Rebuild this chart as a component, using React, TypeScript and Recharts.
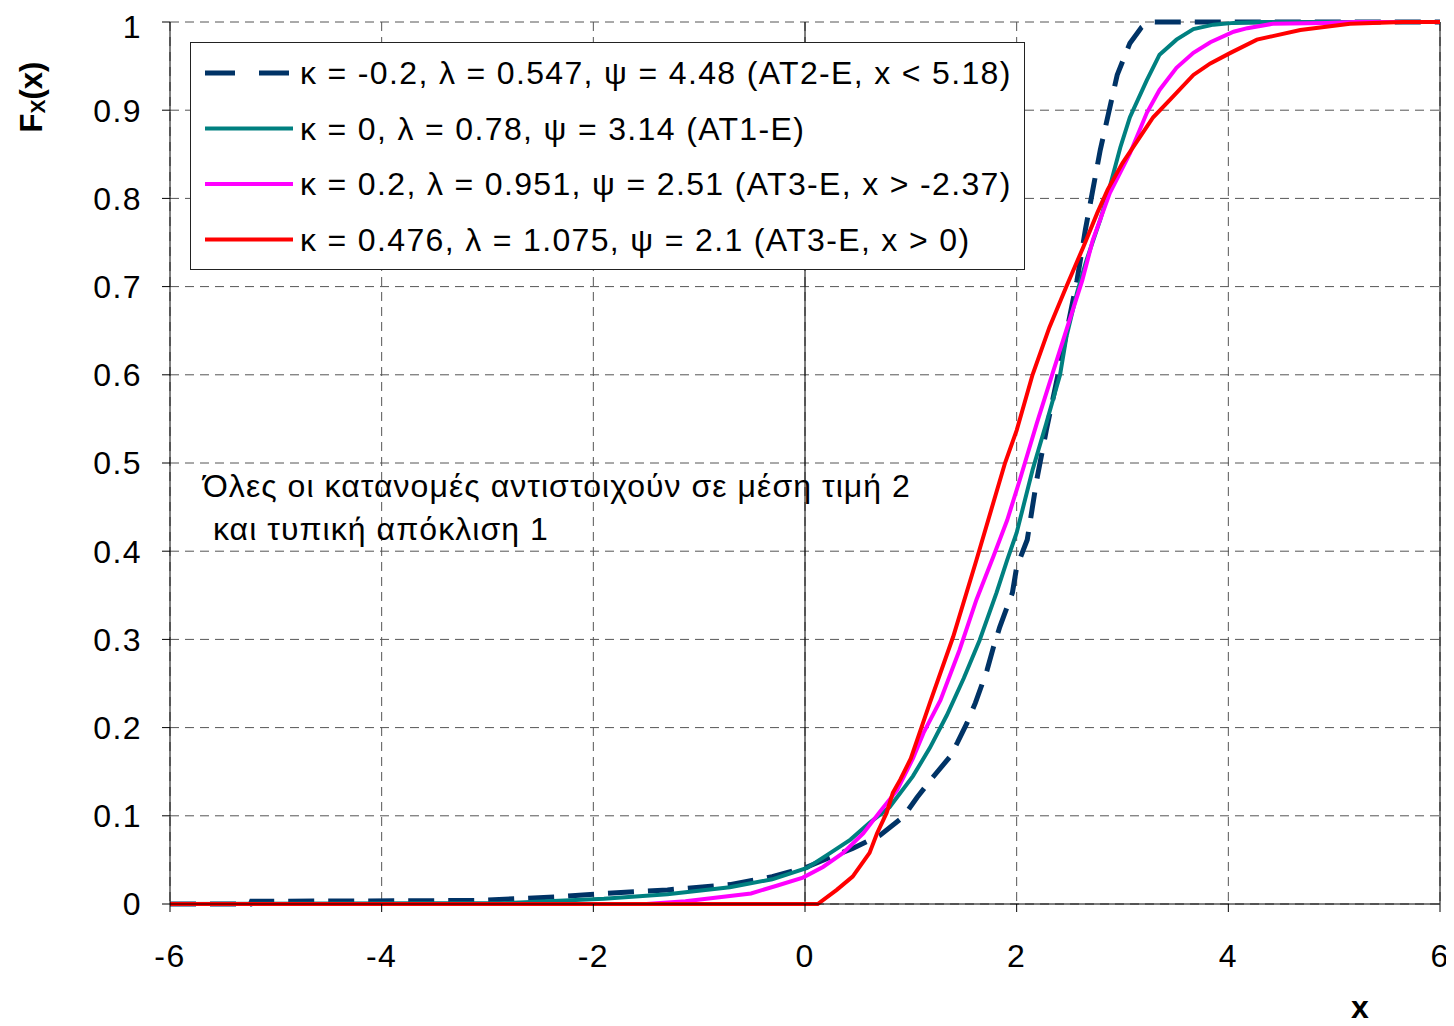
import React from 'react';
import { LineChart, Line, XAxis, YAxis, CartesianGrid, ReferenceLine } from 'recharts';

// x ticks και y ticks
const xTicks = [-6, -4, -2, 0, 2, 4, 6];
const yTicks = [0, 0.1, 0.2, 0.3, 0.4, 0.5, 0.6, 0.7, 0.8, 0.9, 1];

// Σειρές (x, F) διαβασμένες από το γράφημα
const at2Data = [
  { x: -6, F: 0 }, { x: -5.24, F: 0 }, { x: -5.23, F: 0.003 }, { x: -3.12, F: 0.004 },
  { x: -2.35, F: 0.008 }, { x: -1.9, F: 0.012 }, { x: -1.3, F: 0.016 }, { x: -0.71, F: 0.022 },
  { x: -0.31, F: 0.031 }, { x: 0.02, F: 0.042 }, { x: 0.24, F: 0.053 }, { x: 0.45, F: 0.063 },
  { x: 0.71, F: 0.078 }, { x: 0.93, F: 0.099 }, { x: 1.06, F: 0.121 }, { x: 1.21, F: 0.144 },
  { x: 1.37, F: 0.167 }, { x: 1.44, F: 0.183 }, { x: 1.53, F: 0.205 }, { x: 1.61, F: 0.228 },
  { x: 1.72, F: 0.265 }, { x: 1.78, F: 0.291 }, { x: 1.84, F: 0.314 }, { x: 1.96, F: 0.353 },
  { x: 2.0, F: 0.382 }, { x: 2.1, F: 0.413 }, { x: 2.19, F: 0.481 }, { x: 2.28, F: 0.537 },
  { x: 2.38, F: 0.594 }, { x: 2.57, F: 0.707 }, { x: 2.65, F: 0.765 }, { x: 2.72, F: 0.81 },
  { x: 2.79, F: 0.855 }, { x: 2.95, F: 0.94 }, { x: 3.07, F: 0.976 }, { x: 3.18, F: 0.994 },
  { x: 3.23, F: 0.998 }, { x: 3.29, F: 1 }, { x: 6, F: 1 },
];

const at1Data = [
  { x: -6, F: 0 }, { x: -2.83, F: 0.001 }, { x: -1.9, F: 0.006 }, { x: -1.3, F: 0.011 },
  { x: -0.71, F: 0.019 }, { x: -0.31, F: 0.028 }, { x: 0.02, F: 0.041 }, { x: 0.24, F: 0.058 },
  { x: 0.43, F: 0.073 }, { x: 0.61, F: 0.092 }, { x: 0.8, F: 0.11 }, { x: 1.02, F: 0.145 },
  { x: 1.18, F: 0.177 }, { x: 1.34, F: 0.214 }, { x: 1.5, F: 0.256 }, { x: 1.65, F: 0.299 },
  { x: 1.81, F: 0.353 }, { x: 1.91, F: 0.39 }, { x: 2.0, F: 0.421 }, { x: 2.15, F: 0.492 },
  { x: 2.28, F: 0.545 }, { x: 2.41, F: 0.6 }, { x: 2.47, F: 0.643 }, { x: 2.57, F: 0.693 },
  { x: 2.66, F: 0.73 }, { x: 2.79, F: 0.776 }, { x: 2.85, F: 0.8 }, { x: 2.98, F: 0.858 },
  { x: 3.07, F: 0.892 }, { x: 3.23, F: 0.934 }, { x: 3.35, F: 0.963 }, { x: 3.51, F: 0.98 },
  { x: 3.67, F: 0.992 }, { x: 3.86, F: 0.997 }, { x: 4.05, F: 0.999 }, { x: 4.3, F: 1 },
  { x: 6, F: 1 },
];

const at3aData = [
  { x: -6, F: 0 }, { x: -1.5, F: 0 }, { x: -1.13, F: 0.003 }, { x: -0.51, F: 0.012 },
  { x: -0.26, F: 0.021 }, { x: -0.02, F: 0.03 }, { x: 0.17, F: 0.042 }, { x: 0.36, F: 0.058 },
  { x: 0.55, F: 0.08 }, { x: 0.71, F: 0.105 }, { x: 0.87, F: 0.129 }, { x: 1.02, F: 0.165 },
  { x: 1.12, F: 0.194 }, { x: 1.28, F: 0.231 }, { x: 1.46, F: 0.288 }, { x: 1.62, F: 0.345 },
  { x: 1.78, F: 0.394 }, { x: 1.91, F: 0.435 }, { x: 2.03, F: 0.481 }, { x: 2.19, F: 0.545 },
  { x: 2.34, F: 0.602 }, { x: 2.47, F: 0.651 }, { x: 2.62, F: 0.707 }, { x: 2.72, F: 0.753 },
  { x: 2.88, F: 0.806 }, { x: 3.07, F: 0.851 }, { x: 3.23, F: 0.897 }, { x: 3.35, F: 0.923 },
  { x: 3.51, F: 0.948 }, { x: 3.67, F: 0.965 }, { x: 3.83, F: 0.977 }, { x: 4.05, F: 0.989 },
  { x: 4.18, F: 0.993 }, { x: 4.42, F: 0.998 }, { x: 4.93, F: 0.999 }, { x: 5.2, F: 1 },
  { x: 6, F: 1 },
];

const at3bData = [
  { x: -6, F: 0 }, { x: 0.12, F: 0 }, { x: 0.3, F: 0.016 }, { x: 0.45, F: 0.031 },
  { x: 0.61, F: 0.058 }, { x: 0.68, F: 0.08 }, { x: 0.77, F: 0.103 }, { x: 0.83, F: 0.126 },
  { x: 0.9, F: 0.141 }, { x: 1.0, F: 0.165 }, { x: 1.06, F: 0.186 }, { x: 1.18, F: 0.228 },
  { x: 1.4, F: 0.303 }, { x: 1.62, F: 0.39 }, { x: 1.89, F: 0.5 }, { x: 2.0, F: 0.537 },
  { x: 2.15, F: 0.6 }, { x: 2.31, F: 0.654 }, { x: 2.47, F: 0.7 }, { x: 2.63, F: 0.745 },
  { x: 2.76, F: 0.783 }, { x: 2.86, F: 0.81 }, { x: 3.0, F: 0.84 }, { x: 3.29, F: 0.892 },
  { x: 3.45, F: 0.912 }, { x: 3.67, F: 0.94 }, { x: 3.83, F: 0.953 }, { x: 4.02, F: 0.965 },
  { x: 4.27, F: 0.98 }, { x: 4.42, F: 0.984 }, { x: 4.68, F: 0.991 }, { x: 5.15, F: 0.998 },
  { x: 5.65, F: 1 }, { x: 6, F: 1 },
];

const seriesNames = [
  'κ = -0.2, λ = 0.547, ψ = 4.48 (AT2-E, x < 5.18)',
  'κ = 0, λ = 0.78, ψ = 3.14 (AT1-E)',
  'κ = 0.2, λ = 0.951, ψ = 2.51 (AT3-E, x > -2.37)',
  'κ = 0.476, λ = 1.075, ψ = 2.1 (AT3-E, x > 0)',
];
const seriesColors = ['#003366', '#008080', '#FF00FF', '#FF0000'];
const seriesDash = ['26 14', undefined, undefined, undefined];

const noteLines = ['Όλες οι κατανομές αντιστοιχούν σε μέση τιμή 2', ' και τυπική απόκλιση 1'];

const FONT = '"Liberation Sans", Arial, sans-serif';
const W = 1446;
const H = 1018;

export default function App() {
  const tickStyle = { fill: '#000', fontSize: 32, fontFamily: FONT, letterSpacing: 1.4 };
  return (
    <div style={{ position: 'relative', width: W, height: H, background: '#fff' }}>
      <LineChart width={W} height={H} margin={{ top: 14, right: 14, left: 0, bottom: 0 }}>
        <CartesianGrid stroke="#555" strokeDasharray="9 6" />
        <XAxis
          type="number"
          dataKey="x"
          domain={[-6, 6]}
          ticks={xTicks}
          allowDataOverflow
          height={122}
          tickSize={8}
          tickMargin={32}
          stroke="#000"
          tick={tickStyle}
        />
        <YAxis
          type="number"
          domain={[0, 1]}
          ticks={yTicks}
          width={162}
          tickSize={8}
          tickMargin={20}
          stroke="#000"
          tickFormatter={(v: number) => String(+v.toFixed(1))}
          tick={tickStyle}
        />
        <ReferenceLine x={0} stroke="#000" strokeWidth={1} />
        <ReferenceLine x={6} stroke="#000" strokeWidth={1} />
        {[at2Data, at1Data, at3aData, at3bData].map((d, i) => (
          <Line
            key={seriesNames[i]}
            data={d}
            dataKey="F"
            name={seriesNames[i]}
            type="linear"
            stroke={seriesColors[i]}
            strokeWidth={i === 0 ? 5 : 4}
            strokeDasharray={seriesDash[i]}
            dot={false}
            activeDot={false}
            isAnimationActive={false}
          />
        ))}
      </LineChart>
      <svg width={W} height={H} style={{ position: 'absolute', left: 0, top: 0, pointerEvents: 'none' }}>
        {/* υπόμνημα */}
        <g transform="translate(182, 34)">
          <rect x={0.5} y={0.5} width={834} height={227} fill="#fff" stroke="#222" strokeWidth={1} />
          {seriesNames.map((name, i) => {
            const y = 31 + i * 55.5;
            return (
              <g key={name}>
                <line
                  x1={15}
                  x2={103}
                  y1={y}
                  y2={y}
                  stroke={seriesColors[i]}
                  strokeWidth={i === 0 ? 5 : 4}
                  strokeDasharray={i === 0 ? '30 24' : undefined}
                />
                <text x={110} y={y + 11} fontSize={32} fontFamily={FONT} letterSpacing={1.35} fill="#000">
                  {name}
                </text>
              </g>
            );
          })}
        </g>
        <text x={195} y={489} fontSize={32} fontFamily={FONT} letterSpacing={1.05} fill="#000">
          {noteLines[0]}
        </text>
        <text x={195} y={532} fontSize={32} fontFamily={FONT} letterSpacing={1.05} fill="#000" style={{ whiteSpace: 'pre' }}>
          {noteLines[1]}
        </text>
        <text transform="translate(34, 89) rotate(-90)" textAnchor="middle" fontFamily={FONT} fontWeight="bold" fontSize={31} fill="#000">
          F<tspan fontSize={21} dy={3}>X</tspan>
          <tspan dy={-3}>(x)</tspan>
        </text>
        <text x={1352} y={1010} textAnchor="middle" fontFamily={FONT} fontWeight="bold" fontSize={32} fill="#000">
          x
        </text>
      </svg>
    </div>
  );
}
